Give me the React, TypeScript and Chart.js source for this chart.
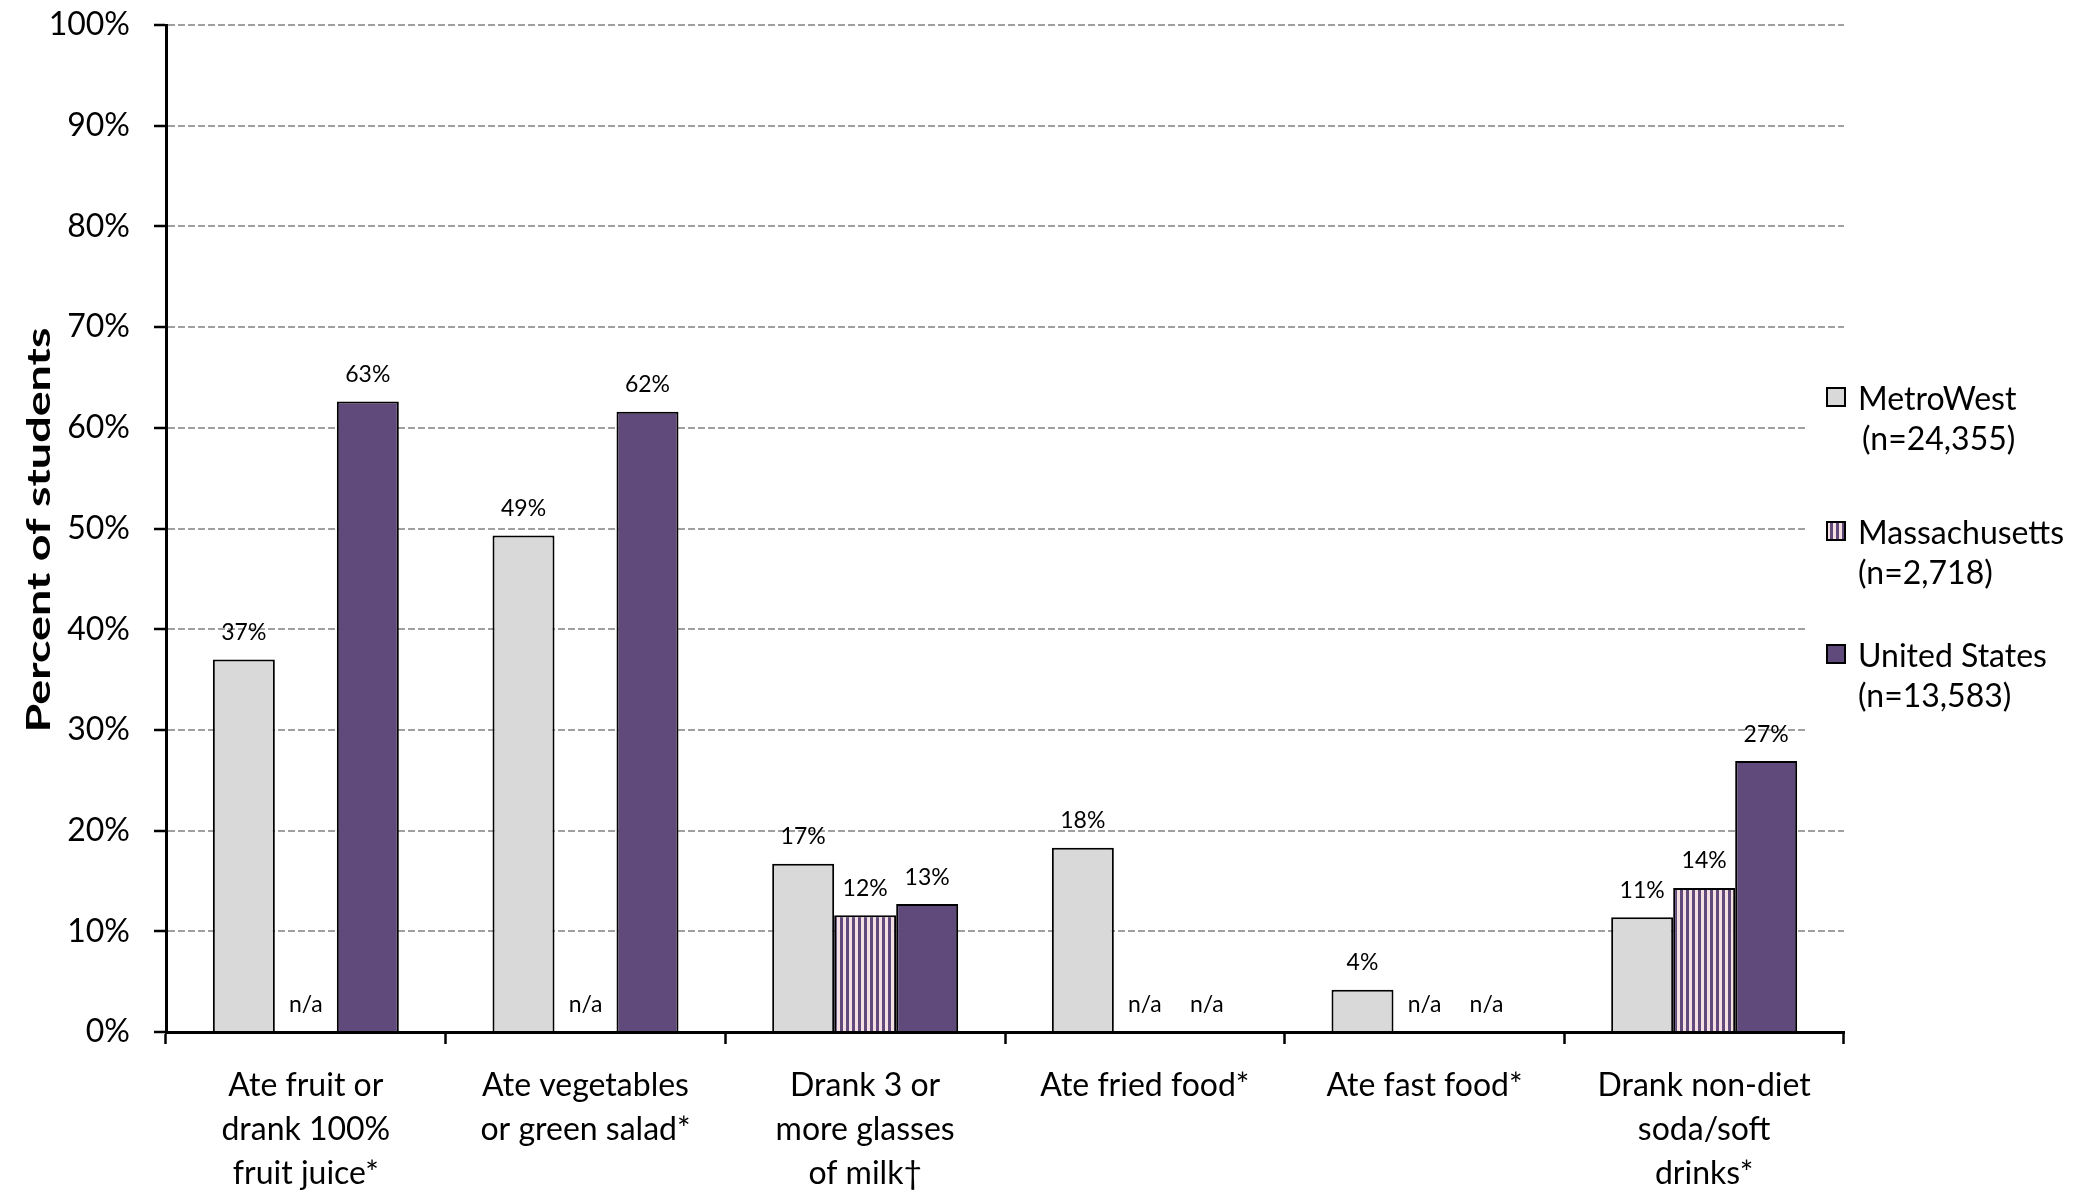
import React, { useEffect, useRef } from "react";
import { Chart, registerables } from "chart.js";

Chart.register(...registerables);

// ---------- data ----------
const categories: string[][] = [
  ["Ate fruit or", "drank 100%", "fruit juice*"],
  ["Ate vegetables", "or green salad*"],
  ["Drank 3 or", "more glasses", "of milk\u2020"],
  ["Ate fried food*"],
  ["Ate fast food*"],
  ["Drank non-diet", "soda/soft", "drinks*"],
];
const seriesNames = ["MetroWest", "Massachusetts", "United States"];
const seriesSizes = ["(n=24,355)", "(n=2,718)", "(n=13,583)"];
const metroWest: (number | null)[] = [37.0, 49.3, 16.7, 18.3, 4.2, 11.4];
const massachusetts: (number | null)[] = [null, null, 11.6, null, null, 14.3];
const unitedStates: (number | null)[] = [62.6, 61.6, 12.7, null, null, 26.9];
const yMin = 0;
const yMax = 100;
const yStep = 10;
const yTitle = "Percent of students";
const naLabel = "n/a";

// ---------- styles ----------
const FONT = "Lato, 'Open Sans', sans-serif";
const GRAY = "#D9D9D9";
const PURPLE = "#604A7B";
const PINK = "#F4DFE3";

function makeStripes(): CanvasPattern | string {
  const c = document.createElement("canvas");
  c.width = 6;
  c.height = 4;
  const g = c.getContext("2d");
  if (!g) return PURPLE;
  g.fillStyle = PINK;
  g.fillRect(0, 0, 6, 4);
  g.fillStyle = PURPLE;
  g.fillRect(0, 0, 3, 4);
  const p = g.createPattern(c, "repeat");
  return p || PURPLE;
}

export default function App() {
  const ref = useRef<HTMLCanvasElement | null>(null);

  useEffect(() => {
    document.body.style.margin = "0";
    document.body.style.overflow = "hidden";
    const canvas = ref.current;
    if (!canvas) return;
    const stripes = makeStripes();
    const fills = [GRAY, stripes, PURPLE];

    const valueLabels = {
      id: "valueLabels",
      afterDatasetsDraw(chart: any) {
        const ctx = chart.ctx;
        const yScale = chart.scales.y;
        ctx.save();
        ctx.font = `23px ${FONT}`;
        ctx.fillStyle = "#000";
        ctx.textAlign = "center";
        ctx.textBaseline = "middle";
        chart.data.datasets.forEach((ds: any, di: number) => {
          const meta = chart.getDatasetMeta(di);
          meta.data.forEach((el: any, i: number) => {
            const v = ds.data[i];
            if (v == null) {
              ctx.fillText(naLabel, el.x, yScale.getPixelForValue(0) - 27);
            } else {
              ctx.fillText(`${Math.round(v)}%`, el.x, el.y - 27);
            }
          });
        });
        ctx.restore();
      },
    };

    const legendAndTitle = {
      id: "legendAndTitle",
      afterDraw(chart: any) {
        const ctx = chart.ctx;
        ctx.save();
        // legend
        ctx.fillStyle = "#fff";
        ctx.fillRect(1808, 360, 2075 - 1808, 385);
        const rowTop = [397, 531, 654];
        seriesNames.forEach((name, i) => {
          const cy = rowTop[i];
          ctx.fillStyle = fills[i] as any;
          ctx.fillRect(1827, cy - 9, 18, 18);
          ctx.lineWidth = 2;
          ctx.strokeStyle = "#000";
          ctx.strokeRect(1827, cy - 9, 18, 18);
          ctx.fillStyle = "#000";
          ctx.font = `32px ${FONT}`;
          ctx.textAlign = "left";
          ctx.textBaseline = "middle";
          ctx.fillText(name, 1858, cy + 3);
          ctx.fillText(seriesSizes[i], 1858 + (i === 0 ? 4 : 0), cy + 43);
        });
        // y title (stretched bold text)
        ctx.font = `bold 33px ${FONT}`;
        const w = ctx.measureText(yTitle).width;
        const target = 405;
        ctx.translate(39, 530);
        ctx.rotate(-Math.PI / 2);
        ctx.scale(target / w, 1);
        ctx.textAlign = "center";
        ctx.textBaseline = "middle";
        ctx.fillText(yTitle, 0, 0);
        ctx.restore();
      },
    };

    const chart = new Chart(canvas, {
      type: "bar",
      data: {
        labels: categories,
        datasets: [
          { label: seriesNames[0], data: metroWest, backgroundColor: GRAY },
          { label: seriesNames[1], data: massachusetts, backgroundColor: stripes as any },
          { label: seriesNames[2], data: unitedStates, backgroundColor: PURPLE },
        ].map((d) => ({
          ...d,
          borderColor: "#000",
          borderWidth: 2,
          borderSkipped: "bottom" as const,
          categoryPercentage: 0.665,
          barPercentage: 1,
        })),
      },
      options: {
        responsive: false,
        animation: false,
        devicePixelRatio: 1,
        layout: { padding: { left: 0, right: 2075 - 1844, top: 25, bottom: 0 } },
        plugins: {
          legend: { display: false },
          tooltip: { enabled: false },
          title: { display: false },
        },
        scales: {
          x: {
            offset: true,
            grid: {
              offset: true,
              drawOnChartArea: false,
              drawTicks: true,
              tickLength: 12,
              tickColor: "#000",
              tickWidth: 2.5,
            },
            border: { display: true, color: "#000", width: 3 },
            ticks: {
              color: "#000",
              font: { family: FONT, size: 32, lineHeight: "44px" as any },
              padding: 20,
              maxRotation: 0,
              autoSkip: false,
            },
            afterFit(scale: any) {
              scale.height = 1193 - 1032;
            },
          },
          y: {
            min: yMin,
            max: yMax,
            grid: {
              color: (c: any) => (c.tick && c.tick.value === 0 ? "rgba(0,0,0,0)" : "#A0A0A0"),
              lineWidth: 2,
              drawTicks: true,
              tickLength: 12,
              tickColor: "#000",
              tickWidth: 2.5,
              tickBorderDash: [],
            },
            border: { display: true, color: "#000", width: 3, dash: [7, 3] },
            ticks: {
              stepSize: yStep,
              color: "#000",
              font: { family: FONT, size: 32 },
              padding: 24,
              callback: (v: any) => `${v}%`,
            },
            afterFit(scale: any) {
              scale.width = 166;
              scale.paddingTop = 0;
              scale.paddingBottom = 0;
            },
          },
        },
      },
      plugins: [valueLabels, legendAndTitle],
    });
    return () => chart.destroy();
  }, []);

  return (
    <div style={{ width: 2075, height: 1193 }}>
      <canvas ref={ref} width={2075} height={1193} style={{ display: "block", width: 2075, height: 1193 }} />
    </div>
  );
}
